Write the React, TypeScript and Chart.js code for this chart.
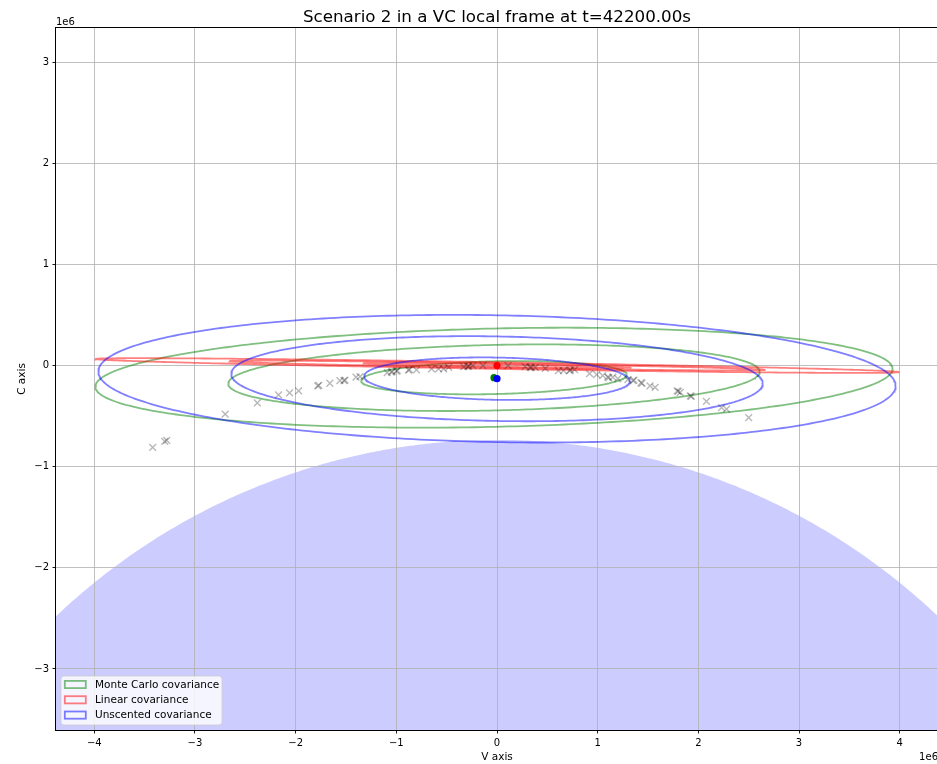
import React, { useEffect, useRef } from "react";
import { Chart, registerables } from "chart.js";

Chart.register(...registerables);

const CANVAS_W = 1000;
const CANVAS_H = 764;
const FONT = "DejaVu Sans";

// Axis extents and ticks, in units of 1e6 m
const X_RANGE = [-4.38, 4.38];
const Y_RANGE = [-3.604, 3.338];
const X_TICKS = [-4, -3, -2, -1, 0, 1, 2, 3, 4];
const Y_TICKS = [-3, -2, -1, 0, 1, 2, 3];

const TITLE = "Scenario 2 in a VC local frame at t=42200.00s";
const X_LABEL = "V axis";
const Y_LABEL = "C axis";
const OFFSET_LABEL = "1e6";

// Propagated Monte Carlo samples (V, C), units of 1e6 m
const SAMPLE_V = [
  -3.42, -3.3, -3.28, -2.7, -2.38, -2.17, -2.06, -1.97, -1.78, -1.77,
  -1.66, -1.56, -1.52, -1.51, -1.4, -1.36, -1.09, -1.05, -1.04, -1.0,
  -0.99, -0.88, -0.87, -0.8, -0.65, -0.58, -0.53, -0.48, -0.33, -0.29,
  -0.28, -0.24, -0.14, 0.11, 0.28, 0.33, 0.34, 0.38, 0.48, 0.61,
  0.66, 0.72, 0.73, 0.77, 0.92, 0.99, 1.05, 1.1, 1.11, 1.15,
  1.2, 1.3, 1.35, 1.36, 1.43, 1.44, 1.52, 1.57, 1.79, 1.8,
  1.82, 1.92, 1.93, 2.08, 2.23, 2.28, 2.5,
];
const SAMPLE_C = [
  -0.81, -0.75, -0.74, -0.48, -0.37, -0.29, -0.27, -0.25, -0.2, -0.195,
  -0.175, -0.15, -0.15, -0.145, -0.115, -0.11, -0.07, -0.065, -0.06, -0.055,
  -0.05, -0.045, -0.04, -0.043, -0.033, -0.033, -0.033, -0.017, -0.01, -0.01,
  -0.005, 0.0, 0.0, 0.0, -0.01, -0.017, -0.02, -0.017, -0.027, -0.05,
  -0.05, -0.05, -0.045, -0.04, -0.08, -0.09, -0.1, -0.115, -0.12, -0.115,
  -0.13, -0.14, -0.15, -0.145, -0.17, -0.175, -0.2, -0.215, -0.25, -0.255,
  -0.265, -0.3, -0.305, -0.355, -0.415, -0.43, -0.515,
];

// Covariance ellipses: mean, 1-sigma semi-axes, orientation (deg)
const SIGMA_LEVELS = [1, 2, 3];

const MC_MEAN = [-0.03, -0.12];
const MC_AXES = [1.32, 0.162];
const MC_ANGLE = 1.3;

const LIN_MEAN = [0, 0];
const LIN_AXES = [1.33, 0.011];
const LIN_ANGLE = -0.93;

const UT_MEAN = [0, -0.13];
const UT_AXES = [1.32, 0.209];
const UT_ANGLE = -1.05;

// Earth disc in the same frame
const EARTH_RADIUS = 6.371;
const EARTH_CENTER = [0, -7.106];

const LEGEND_LABELS = ["Monte Carlo covariance", "Linear covariance", "Unscented covariance"];
const MC_COLOR = "rgba(0,128,0,0.5)";
const LIN_COLOR = "rgba(255,0,0,0.5)";
const UT_COLOR = "rgba(0,0,255,0.5)";
const LEGEND_COLORS = [MC_COLOR, LIN_COLOR, UT_COLOR];

function ellipseOutline(center: number[], axes: number[], angleDeg: number, k: number, steps = 360) {
  const th = (angleDeg * Math.PI) / 180;
  const c = Math.cos(th);
  const s = Math.sin(th);
  const a = axes[0] * k;
  const b = axes[1] * k;
  const pts: { x: number; y: number }[] = [];
  for (let i = 0; i <= steps; i++) {
    const t = (i / steps) * 2 * Math.PI;
    const u = a * Math.cos(t);
    const w = b * Math.sin(t);
    pts.push({ x: center[0] + u * c - w * s, y: center[1] + u * s + w * c });
  }
  return pts;
}

function earthArc(steps = 600) {
  const pts: { x: number; y: number }[] = [];
  for (let i = 0; i <= steps; i++) {
    const t = Math.PI - (i / steps) * Math.PI;
    pts.push({
      x: EARTH_CENTER[0] + EARTH_RADIUS * Math.cos(t),
      y: EARTH_CENTER[1] + EARTH_RADIUS * Math.sin(t),
    });
  }
  return pts;
}

function ellipseSets(center: number[], axes: number[], angle: number, color: string, label: string) {
  return SIGMA_LEVELS.map((k) => ({
    label,
    data: ellipseOutline(center, axes, angle, k),
    showLine: true,
    borderColor: color,
    borderWidth: 1.8,
    pointRadius: 0,
    fill: false,
    tension: 0,
  }));
}

function dot(p: number[], color: string, label: string) {
  return {
    label,
    data: [{ x: p[0], y: p[1] }],
    pointRadius: 3.6,
    pointStyle: "circle",
    backgroundColor: color,
    borderColor: color,
    pointBorderWidth: 0,
  };
}

const fmtTick = (v: number) => (v < 0 ? "\u2212" + Math.abs(v) : String(v));

const decorPlugin = {
  id: "decor",
  afterDraw(chart: any) {
    const { ctx, chartArea: ca } = chart;
    ctx.save();

    // axes frame
    ctx.strokeStyle = "#000";
    ctx.lineWidth = 1;
    ctx.strokeRect(ca.left - 0.5, ca.top - 0.5, ca.right - ca.left + 1, ca.bottom - ca.top + 1);

    // title
    ctx.fillStyle = "#000";
    ctx.font = `16.7px "${FONT}"`;
    ctx.textAlign = "center";
    ctx.textBaseline = "alphabetic";
    ctx.fillText(TITLE, (ca.left + ca.right) / 2, 21.5);

    // scale offset labels
    ctx.font = `10px "${FONT}"`;
    ctx.textAlign = "left";
    ctx.fillText(OFFSET_LABEL, ca.left, 25);
    ctx.textAlign = "right";
    ctx.fillText(OFFSET_LABEL, ca.right, 759.5);

    // legend
    const bx = 61, by = 676, bw = 161, bh = 49, r = 3;
    ctx.beginPath();
    ctx.moveTo(bx + r, by);
    ctx.lineTo(bx + bw - r, by);
    ctx.quadraticCurveTo(bx + bw, by, bx + bw, by + r);
    ctx.lineTo(bx + bw, by + bh - r);
    ctx.quadraticCurveTo(bx + bw, by + bh, bx + bw - r, by + bh);
    ctx.lineTo(bx + r, by + bh);
    ctx.quadraticCurveTo(bx, by + bh, bx, by + bh - r);
    ctx.lineTo(bx, by + r);
    ctx.quadraticCurveTo(bx, by, bx + r, by);
    ctx.closePath();
    ctx.fillStyle = "rgba(255,255,255,0.8)";
    ctx.fill();
    ctx.strokeStyle = "rgba(204,204,204,0.8)";
    ctx.lineWidth = 1;
    ctx.stroke();

    ctx.font = `10.5px "${FONT}"`;
    ctx.textAlign = "left";
    ctx.textBaseline = "middle";
    LEGEND_LABELS.forEach((label, i) => {
      const cy = 684.5 + i * 15.3;
      ctx.strokeStyle = LEGEND_COLORS[i];
      ctx.lineWidth = 1.8;
      ctx.strokeRect(64.8, cy - 3.6, 21, 7.2);
      ctx.fillStyle = "#000";
      ctx.fillText(label, 95, cy + 0.5);
    });

    ctx.restore();
  },
};

export default function App() {
  const canvasRef = useRef<HTMLCanvasElement | null>(null);

  useEffect(() => {
    if (!canvasRef.current) return;

    const samples = SAMPLE_V.map((v, i) => ({ x: v, y: SAMPLE_C[i] }));

    const datasets: any[] = [
      dot(UT_MEAN, "#0000ff", "Unscented mean"),
      dot(MC_MEAN, "#008000", "Monte Carlo mean"),
      dot(LIN_MEAN, "#ff0000", "Linear mean"),
      {
        label: "Samples",
        data: samples,
        pointStyle: "crossRot",
        pointRadius: 4.8,
        pointBorderWidth: 1.4,
        pointBorderColor: "rgba(0,0,0,0.28)",
        backgroundColor: "rgba(0,0,0,0)",
      },
      ...ellipseSets(UT_MEAN, UT_AXES, UT_ANGLE, UT_COLOR, LEGEND_LABELS[2]),
      ...ellipseSets(LIN_MEAN, LIN_AXES, LIN_ANGLE, LIN_COLOR, LEGEND_LABELS[1]),
      ...ellipseSets(MC_MEAN, MC_AXES, MC_ANGLE, MC_COLOR, LEGEND_LABELS[0]),
      {
        label: "Earth",
        data: earthArc(),
        showLine: true,
        borderWidth: 0,
        borderColor: "rgba(0,0,0,0)",
        pointRadius: 0,
        fill: "start",
        backgroundColor: "rgba(0,0,255,0.2)",
      },
    ];

    const tickFont = { family: FONT, size: 10 };
    const labelFont = { family: FONT, size: 10.5 };
    const grid = {
      color: "#b0b0b0",
      lineWidth: 0.8,
      drawTicks: true,
      tickLength: 3.5,
      tickColor: "#000",
      tickWidth: 0.9,
    };

    const chart = new Chart(canvasRef.current, {
      type: "scatter",
      data: { datasets },
      plugins: [decorPlugin],
      options: {
        responsive: false,
        animation: false,
        devicePixelRatio: 1,
        events: [],
        layout: { padding: { top: 28, right: CANVAS_W - 938, bottom: 0, left: 0 } },
        plugins: {
          legend: { display: false },
          title: { display: false },
          tooltip: { enabled: false },
          filler: { drawTime: "beforeDraw" },
        },
        scales: {
          x: {
            type: "linear",
            min: X_RANGE[0],
            max: X_RANGE[1],
            afterBuildTicks: (s: any) => {
              s.ticks = X_TICKS.map((value) => ({ value }));
            },
            afterFit: (s: any) => {
              s.height = 34;
            },
            ticks: {
              font: tickFont,
              color: "#000",
              padding: 3.5,
              maxRotation: 0,
              autoSkip: false,
              callback: (v: any) => fmtTick(Number(v)),
            },
            grid,
            border: { display: false },
            title: {
              display: true,
              text: X_LABEL,
              font: labelFont,
              color: "#000",
              padding: { top: 0, bottom: 0.7 },
            },
          },
          y: {
            type: "linear",
            min: Y_RANGE[0],
            max: Y_RANGE[1],
            afterBuildTicks: (s: any) => {
              s.ticks = Y_TICKS.map((value) => ({ value }));
            },
            afterFit: (s: any) => {
              s.width = 56;
            },
            ticks: {
              font: tickFont,
              color: "#000",
              padding: 3.5,
              autoSkip: false,
              callback: (v: any) => fmtTick(Number(v)),
            },
            grid,
            border: { display: false },
            title: {
              display: true,
              text: Y_LABEL,
              font: labelFont,
              color: "#000",
              padding: { top: 15.7, bottom: 0 },
            },
          },
        },
      } as any,
    });

    return () => chart.destroy();
  }, []);

  return (
    <div style={{ position: "fixed", left: 0, top: 0, width: CANVAS_W, height: CANVAS_H, background: "#fff" }}>
      <canvas
        ref={canvasRef}
        width={CANVAS_W}
        height={CANVAS_H}
        style={{ display: "block", width: CANVAS_W, height: CANVAS_H }}
      />
    </div>
  );
}
